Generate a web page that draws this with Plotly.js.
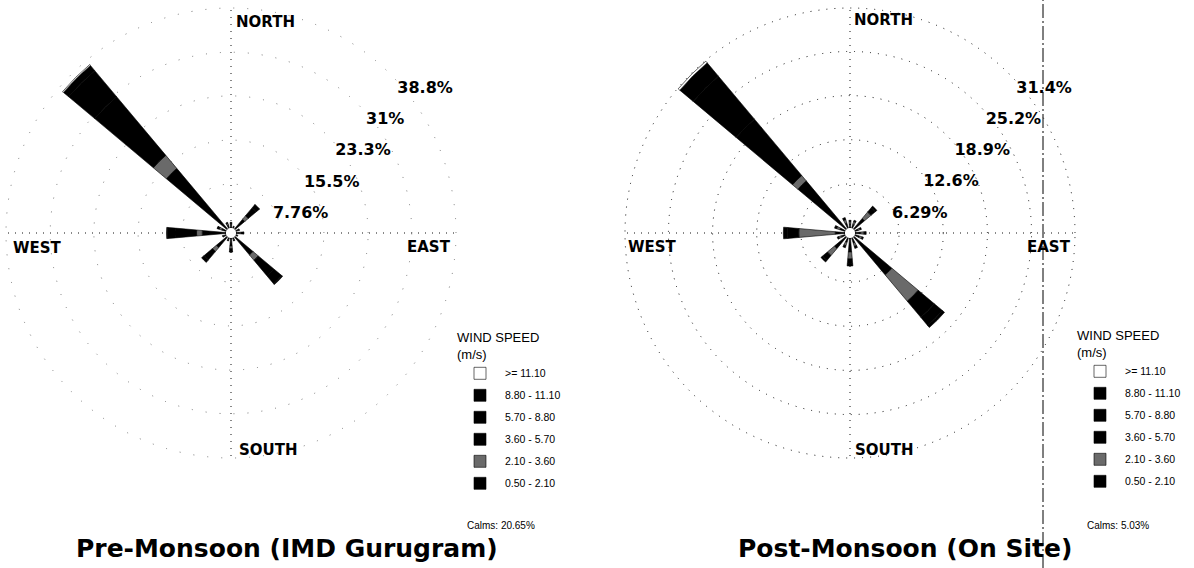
<!DOCTYPE html>
<html>
<head>
<meta charset="utf-8">
<script src="https://cdn.plot.ly/plotly-3.0.1.min.js"></script>
<style>
  html, body { margin: 0; padding: 0; background: #fff; }
  #chart { width: 1194px; height: 568px; }
</style>
</head>
<body>
<div id="chart"></div>
<script>
// ---------- DATA ----------
const directions = ['N','NNE','NE','ENE','E','ESE','SE','SSE','S','SSW','SW','WSW','W','WNW','NW','NNW'];
const speedClasses = ['0.50 - 2.10', '2.10 - 3.60', '3.60 - 5.70', '5.70 - 8.80', '8.80 - 11.10', '>= 11.10'];

// Pre-Monsoon (IMD Gurugram): frequency (%) per direction, per speed class
const preC1 = [0.5, 0.3, 2.3, 0.4, 0.6, 0.3, 4.2, 0.3, 1.4, 0.3, 2.5, 0.4, 4.2, 0.8, 14.0, 0.6];
const preC2 = [0.2, 0.1, 0.8, 0.2, 0.3, 0.1, 1.2, 0.2, 0.5, 0.2, 0.9, 0.2, 1.0, 0.5, 3.0, 0.3];
const preC3 = [0.3, 0.0, 1.8, 0.1, 0.4, 0.0, 3.6, 0.1, 0.5, 0.1, 1.9, 0.1, 3.8, 0.3, 13.5, 0.2];
const preC4 = [0.0, 0.0, 0.7, 0.0, 0.1, 0.0, 1.8, 0.0, 0.1, 0.0, 0.6, 0.0, 1.3, 0.1, 6.0, 0.0];
const preC5 = [0.0, 0.0, 0.1, 0.0, 0.0, 0.0, 0.2, 0.0, 0.0, 0.0, 0.0, 0.0, 0.2, 0.0, 1.2, 0.0];
const preC6 = [0.0, 0.0, 0.0, 0.0, 0.0, 0.0, 0.0, 0.0, 0.0, 0.0, 0.0, 0.0, 0.0, 0.0, 0.2, 0.0];
const preRings = [7.76, 15.5, 23.3, 31, 38.8];
const preRingLabels = ['7.76%', '15.5%', '23.3%', '31%', '38.8%'];
const preCalms = 'Calms: 20.65%';

// Post-Monsoon (On Site)
const postC1 = [0.6, 0.6, 2.0, 0.5, 0.8, 0.7, 7.1, 0.8, 2.0, 0.7, 2.2, 0.6, 1.4, 0.8, 9.0, 0.8];
const postC2 = [0.3, 0.4, 1.2, 0.3, 0.5, 0.4, 4.9, 0.5, 1.0, 0.5, 1.3, 0.4, 5.2, 0.5, 1.0, 0.5];
const postC3 = [0.2, 0.2, 0.8, 0.2, 0.3, 0.2, 3.0, 0.3, 0.7, 0.3, 0.9, 0.2, 1.6, 0.3, 10.5, 0.3];
const postC4 = [0.0, 0.0, 0.3, 0.0, 0.0, 0.0, 1.5, 0.0, 0.3, 0.0, 0.3, 0.0, 0.6, 0.0, 8.0, 0.0];
const postC5 = [0.0, 0.0, 0.0, 0.0, 0.0, 0.0, 0.4, 0.0, 0.0, 0.0, 0.0, 0.0, 0.0, 0.0, 2.5, 0.0];
const postC6 = [0.0, 0.0, 0.0, 0.0, 0.0, 0.0, 0.0, 0.0, 0.0, 0.0, 0.0, 0.0, 0.0, 0.0, 0.3, 0.0];
const postRings = [6.29, 12.6, 18.9, 25.2, 31.4];
const postRingLabels = ['6.29%', '12.6%', '18.9%', '25.2%', '31.4%'];
const postCalms = 'Calms: 5.03%';

const titles = ['Pre-Monsoon (IMD Gurugram)', 'Post-Monsoon (On Site)'];
const compass = ['NORTH', 'EAST', 'SOUTH', 'WEST'];

// ---------- STYLE ----------
const classColors = ['#000000', '#6a6a6a', '#000000', '#000000', '#000000', '#ffffff'];
const dirDeg = directions.map((d, i) => i * 22.5);
const narrow = '"Liberation Sans Narrow", "Arial Narrow", "Liberation Sans", sans-serif';
const bold = 'DejaVu Sans, Verdana, sans-serif';

function traces(series, polarId, legendId) {
  return series.map((vals, k) => ({
    type: 'barpolar',
    r: vals,
    theta: dirDeg,
    width: 10,
    name: speedClasses[k],
    subplot: polarId,
    legend: legendId,
    legendgroup: legendId + k,
    legendrank: 100 - k,
    marker: { color: classColors[k], line: { color: '#000', width: 0.6 } },
    hoverinfo: 'skip'
  }));
}

function ringLabelTrace(rings, labels, polarId) {
  return {
    type: 'scatterpolar',
    mode: 'markers+text',
    r: rings,
    theta: rings.map(() => 45),
    text: labels,
    textposition: 'bottom right',
    marker: { size: 10, color: 'rgba(0,0,0,0)' },
    textfont: { family: bold, size: 16, weight: 'bold', color: '#000' },
    subplot: polarId,
    showlegend: false,
    hoverinfo: 'skip',
    cliponaxis: false
  };
}

const data = [
  ...traces([preC1, preC2, preC3, preC4, preC5, preC6], 'polar', 'legend'),
  ...traces([postC1, postC2, postC3, postC4, postC5, postC6], 'polar2', 'legend2'),
  ringLabelTrace(preRings, preRingLabels, 'polar'),
  ringLabelTrace(postRings, postRingLabels, 'polar2')
];

const W = 1194, H = 568;
function polarLayout(cx, cy, R, rings, maxRing, gridDash, gridColor) {
  const hole = 5 / R;
  const rmax = maxRing * (R - 5) / (225 - 5);
  return {
    domain: { x: [(cx - R) / W, (cx + R) / W], y: [(H - cy - R) / H, (H - cy + R) / H] },
    hole: hole,
    bgcolor: '#fff',
    barmode: 'stack',
    radialaxis: {
      range: [0, rmax],
      angle: 45,
      tickvals: rings,
      showticklabels: false,
      showline: false,
      ticks: '',
      gridcolor: gridColor,
      griddash: gridDash,
      gridwidth: 1
    },
    angularaxis: {
      rotation: 90,
      direction: 'clockwise',
      tickvals: [0, 90, 180, 270],
      showticklabels: false,
      ticks: '',
      showline: false,
      gridcolor: '#111',
      griddash: '1px,6px',
      gridwidth: 1
    }
  };
}

function ann(text, x, y, size, opts) {
  return Object.assign({
    text: text, xref: 'paper', yref: 'paper', x: x / W, y: 1 - y / H,
    showarrow: false, xanchor: 'left', yanchor: 'middle',
    font: { family: bold, size: size, weight: 'bold', color: '#000' }
  }, opts || {});
}

const legendBase = {
  xanchor: 'left', yanchor: 'top',
  bgcolor: 'rgba(0,0,0,0)',
  traceorder: 'grouped',
  tracegroupgap: 3,
  itemwidth: 40,
  font: { family: narrow, size: 10.5, color: '#000' },
  title: { text: 'WIND SPEED<br>(m/s)', font: { family: narrow, size: 13, color: '#000' } }
};

const layout = {
  width: W, height: H,
  margin: { l: 0, r: 0, t: 0, b: 0 },
  paper_bgcolor: '#fff',
  showlegend: true,
  polar: polarLayout(231, 233, 228, preRings, preRings[4], '1px,13px', '#777'),
  polar2: polarLayout(850, 233, 228, postRings, postRings[4], '1px,7px', '#111'),
  legend: Object.assign({}, legendBase, { x: 455 / W, y: 1 - 325 / H }),
  legend2: Object.assign({}, legendBase, { x: 1075 / W, y: 1 - 323 / H }),
  annotations: [
    ann(compass[0], 234, 22, 15),
    ann(compass[1], 453, 247, 15, { xanchor: 'right' }),
    ann(compass[2], 237, 450, 15),
    ann(compass[3], 11, 248, 15),
    ann(compass[0], 852, 20, 15),
    ann(compass[1], 1073, 247, 15, { xanchor: 'right' }),
    ann(compass[2], 853, 450, 15),
    ann(compass[3], 626, 247, 15),
    ann(titles[0], 287, 548, 25, { xanchor: 'center' }),
    ann(titles[1], 905, 548, 25, { xanchor: 'center' }),
    ann(preCalms, 465, 525, 10, { font: { family: narrow, size: 10, color: '#000' } }),
    ann(postCalms, 1085, 525, 10, { font: { family: narrow, size: 10, color: '#000' } })
  ],
  shapes: [
    { type: 'line', xref: 'paper', yref: 'paper', x0: 1043 / W, x1: 1043 / W, y0: 0, y1: 1,
      line: { color: '#000', width: 1, dash: '14px,3px,2px,3px' } }
  ]
};

Plotly.newPlot('chart', data, layout, { displayModeBar: false, staticPlot: true });
</script>
</body>
</html>
